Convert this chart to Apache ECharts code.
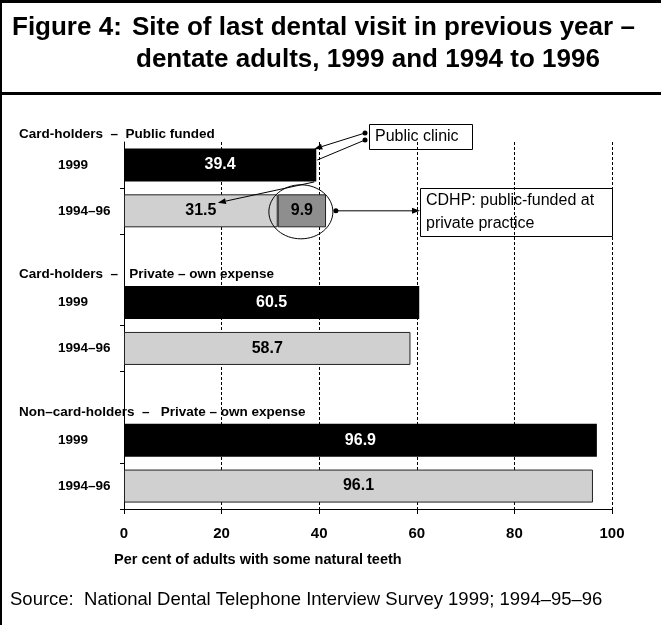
<!DOCTYPE html>
<html><head><meta charset="utf-8">
<script src="https://cdn.jsdelivr.net/npm/echarts@6/dist/echarts.min.js"></script>
<style>html,body{margin:0;padding:0;background:#fff}#c{width:661px;height:625px}</style>
</head><body><div id="c"></div>
<script>
// ---- data ----
const groupTitles = ['Card-holders  \u2013  Public funded', 'Card-holders  \u2013   Private \u2013 own expense', 'Non\u2013card-holders  \u2013   Private \u2013 own expense'];
const yearLabels = ['1999', '1994\u201396'];
const values1999 = [39.4, 60.5, 96.9];
const values9496 = [31.5, 58.7, 96.1];
const cdhp9496 = [9.9, null, null];
const xTickValues = [0, 20, 40, 60, 80, 100];

// ---- build category rows ----
const categories = [], s1999 = [], s9496 = [], sCdhp = [];
groupTitles.forEach((g, i) => {
  if (i > 0) { categories.push(''); s1999.push(null); s9496.push(null); sCdhp.push(null); }
  categories.push(yearLabels[0]); s1999.push(values1999[i]); s9496.push(null); sCdhp.push(null);
  categories.push(yearLabels[1]); s1999.push(null); s9496.push(values9496[i]); sCdhp.push(cdhp9496[i]);
});

const FONT = '"Liberation Sans", Arial, Helvetica, sans-serif';
const chart = echarts.init(document.getElementById('c'), null, {renderer: 'canvas'});

const lbl = (color) => ({show: true, position: 'inside', color: color, fontFamily: FONT, fontWeight: 'bold', fontSize: 16,
  formatter: p => p.value == null ? '' : Number(p.value).toFixed(1)});

chart.setOption({
  animation: false,
  backgroundColor: '#fff',
  grid: {left: 124, right: 49, top: 142, bottom: 116, containLabel: false},
  xAxis: {
    type: 'value', min: xTickValues[0], max: xTickValues[xTickValues.length - 1], interval: xTickValues[1] - xTickValues[0],
    axisLine: {show: true, lineStyle: {color: '#000', width: 1}},
    axisTick: {show: true, length: 5, lineStyle: {color: '#000'}},
    axisLabel: {color: '#000', fontFamily: FONT, fontWeight: 'bold', fontSize: 15, margin: 17},
    splitLine: {show: true, lineStyle: {color: '#000', width: 1, type: [3, 2]}}
  },
  yAxis: {
    type: 'category', inverse: true, data: categories,
    axisLine: {show: true, lineStyle: {color: '#000', width: 1}},
    axisTick: {show: true, length: 4, lineStyle: {color: '#000'}, interval: (i, v) => v !== yearLabels[0]},
    axisLabel: {color: '#000', fontFamily: FONT, fontWeight: 'bold', fontSize: 13.5, align: 'left', margin: 66}
  },
  series: [
    {name: yearLabels[0], type: 'bar', stack: 'all', data: s1999, barWidth: 33,
      itemStyle: {color: '#000'}, label: lbl('#fff')},
    {name: yearLabels[1], type: 'bar', stack: 'all', data: s9496, barWidth: 33,
      itemStyle: {color: '#d0d0d0', borderColor: '#222', borderWidth: 1}, label: lbl('#000')},
    {name: 'CDHP', type: 'bar', stack: 'all', data: sCdhp, barWidth: 33,
      itemStyle: {color: '#8e8e8e', borderColor: '#222', borderWidth: 1}, label: lbl('#000')}
  ]
});

// ---- annotations & texts ----
function T(text, x, y, size, bold, extra) {
  return Object.assign({type: 'text', x: x, y: y, z: 100, style: {text: text, fontFamily: FONT, fontSize: size,
    fontWeight: bold ? 'bold' : 'normal', fill: '#000', verticalAlign: 'middle', align: 'left'}}, extra || {});
}
function L(x1, y1, x2, y2, w) {
  return {type: 'line', z: 100, shape: {x1: x1, y1: y1, x2: x2, y2: y2}, style: {stroke: '#000', lineWidth: w || 1}};
}
function arrow(x1, y1, x2, y2) {
  const a = Math.atan2(y2 - y1, x2 - x1), len = 8, hw = 3;
  const bx = x2 - len * Math.cos(a), by = y2 - len * Math.sin(a);
  const px = -Math.sin(a) * hw, py = Math.cos(a) * hw;
  return [L(x1, y1, bx, by),
    {type: 'polygon', z: 100, shape: {points: [[x2, y2], [bx + px, by + py], [bx - px, by - py]]}, style: {fill: '#000'}}];
}
function dot(x, y) { return {type: 'circle', z: 100, shape: {cx: x, cy: y, r: 2.5}, style: {fill: '#000'}}; }

const px = (v, row) => chart.convertToPixel({gridIndex: 0}, [v, row]);
const end39 = px(values1999[0], 0);
const mid315 = px(values9496[0] / 2, 1);
const midCdhp = px(values9496[0] + cdhp9496[0] / 2, 1);
const row0 = px(0, 0), row3 = px(0, 3), row6 = px(0, 6);

const g = [];
// frame
g.push(L(1, 0, 1, 625, 2));
g.push(L(0, 1.5, 661, 1.5, 3));
g.push(L(0, 93.5, 661, 93.5, 3));
// title
g.push(T('Figure 4:', 12, 28, 26, true));
g.push(T('Site of last dental visit in previous year \u2013', 132, 28, 26, true));
g.push(T('dentate adults, 1999 and 1994 to 1996', 136, 60, 26, true));
// group headers
const headerOffset = -31;
g.push(T(groupTitles[0], 19, row0[1] + headerOffset, 13.5, true));
g.push(T(groupTitles[1], 19, row3[1] + headerOffset + 3, 13.5, true));
g.push(T(groupTitles[2], 19, row6[1] + headerOffset + 3, 13.5, true));
// axis name & source
g.push(T('Per cent of adults with some natural teeth', 114, 560, 14.5, true));
g.push(T('Source:  National Dental Telephone Interview Survey 1999; 1994\u201395\u201396', 10, 600, 18.5, false));
// Public clinic box
g.push({type: 'rect', z: 100, shape: {x: 369.5, y: 124.5, width: 103, height: 25}, style: {fill: 'none', stroke: '#000', lineWidth: 1}});
g.push(T('Public clinic', 375, 137, 16, false));
g.push(dot(365, 133), dot(365, 140));
g.push(...arrow(365, 133, end39[0] - 2, end39[1] - 16));
g.push(L(365, 140, end39[0] + 1, 160));
g.push(...arrow(end39[0] - 2, end39[1] + 17, mid315[0] + 17, mid315[1] - 8));
// CDHP circle + box
g.push({type: 'ellipse', z: 100, shape: {cx: midCdhp[0] - 1, cy: midCdhp[1] + 1, rx: 32, ry: 27}, style: {fill: 'none', stroke: '#000', lineWidth: 1}});
g.push(dot(midCdhp[0] + 34, midCdhp[1]));
g.push(...arrow(midCdhp[0] + 34, midCdhp[1], 420, midCdhp[1]));
g.push({type: 'rect', z: 100, shape: {x: 420.5, y: 188.5, width: 192, height: 48}, style: {fill: 'none', stroke: '#000', lineWidth: 1}});
g.push(T('CDHP: public-funded at', 426, 201, 16, false));
g.push(T('private practice', 426, 224, 16, false));

chart.setOption({graphic: {elements: g}});
</script></body></html>
